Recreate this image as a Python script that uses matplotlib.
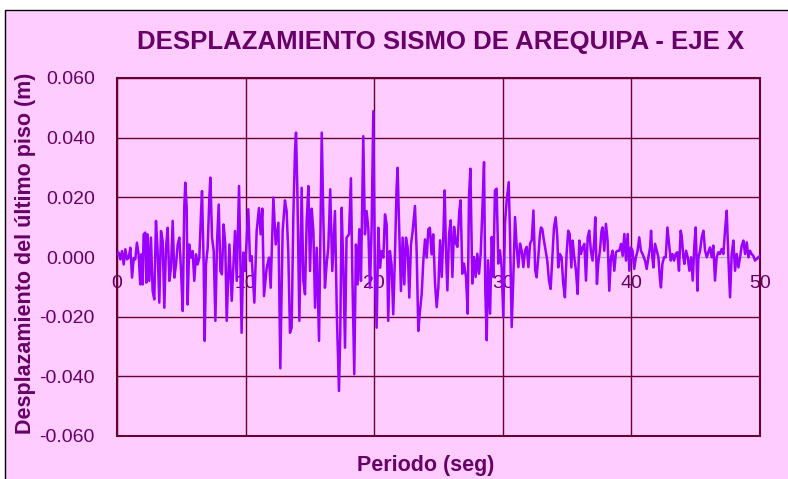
import matplotlib
matplotlib.use("Agg")
import matplotlib.pyplot as plt
from matplotlib.patches import Rectangle

# Tiempo (s) y desplazamiento del ultimo piso (m), tramo por tramo
t_a = [0.00, 0.13, 0.26, 0.39, 0.52, 0.65, 0.78, 0.91, 1.04, 1.17,
       1.30, 1.42, 1.55, 1.68, 1.81, 1.89, 1.99, 2.07, 2.20, 2.28,
       2.38, 2.51, 2.64, 2.77, 2.90, 3.03, 3.16, 3.29, 3.42, 3.55,
       3.68, 3.81, 3.94, 4.07, 4.20, 4.33, 4.46, 4.59, 4.72, 4.85,
       4.98, 5.11, 5.23, 5.31, 5.42, 5.49, 5.62, 5.75, 5.88, 6.01,
       6.14, 6.27, 6.40, 6.53, 6.61, 6.74, 6.82, 6.92, 7.05, 7.18,
       7.26, 7.39, 7.52, 7.65, 7.78, 7.91, 8.04, 8.16, 8.29, 8.42]
d_a = [0.0009, 0.0015, -0.0008, 0.0020, -0.0025, 0.0026, -0.0008, -0.0002, 0.0031, -0.0069,
       -0.0004, -0.0008, 0.0048, 0.0009, -0.0092, 0.0009, -0.0092, 0.0076, 0.0082, -0.0086,
       0.0076, -0.0080, 0.0065, -0.0114, -0.0142, 0.0121, 0.0020, -0.0153, 0.0087, 0.0054,
       -0.0170, 0.0031, 0.0098, -0.0080, -0.0036, 0.0121, -0.0069, -0.0025, 0.0042, 0.0065,
       -0.0047, -0.0181, 0.0165, 0.0249, 0.0165, -0.0159, 0.0042, -0.0002, 0.0020, -0.0080,
       0.0009, -0.0025, -0.0002, 0.0143, 0.0221, -0.0025, -0.0281, -0.0025, 0.0031, 0.0199,
       0.0266, 0.0065, 0.0020, -0.0214, 0.0054, 0.0176, -0.0047, -0.0058, 0.0109, 0.0042]

t_b = [8.53, 8.74, 8.92, 9.18, 9.31, 9.49, 9.69, 9.82, 9.95, 10.21,
       10.34, 10.47, 10.68, 10.86, 11.04, 11.17, 11.30, 11.43, 11.64, 11.82,
       11.95, 12.16, 12.34, 12.55, 12.70, 12.88, 13.06, 13.19, 13.32, 13.45,
       13.58, 13.71, 13.84, 13.92, 14.02, 14.18, 14.36, 14.49, 14.62, 14.75,
       14.88, 15.01, 15.14, 15.27, 15.40, 15.53, 15.71, 15.92, 16.05, 16.17,
       16.30, 16.43]
d_b = [-0.0214, 0.0042, -0.0147, 0.0087, -0.0080, 0.0238, -0.0254, 0.0015, -0.0047, 0.0160,
       -0.0013, 0.0003, -0.0153, 0.0087, 0.0164, 0.0076, 0.0162, -0.0131, -0.0036, -0.0002,
       -0.0103, 0.0199, 0.0042, 0.0115, -0.0373, 0.0087, 0.0190, 0.0154, 0.0015, -0.0254,
       -0.0237, 0.0132, 0.0355, 0.0417, 0.0232, -0.0214, 0.0232, -0.0080, -0.0125, 0.0121,
       0.0238, -0.0047, 0.0162, 0.0087, -0.0170, 0.0031, -0.0281, 0.0417, 0.0121, -0.0103,
       -0.0025, 0.0031]

t_c = [16.58, 16.74, 16.95, 17.10, 17.26, 17.36, 17.47, 17.60, 17.73, 17.85,
       18.04, 18.19, 18.30, 18.45, 18.58, 18.71, 18.84, 18.97, 19.15, 19.28,
       19.41, 19.54, 19.67, 19.80, 19.93, 20.06, 20.19, 20.32, 20.45, 20.58,
       20.71, 20.84, 20.97, 21.09, 21.22, 21.35, 21.48, 21.61, 21.74, 21.82,
       21.92, 22.08, 22.21, 22.34, 22.47, 22.60, 22.73, 22.86, 22.99, 23.17,
       23.30, 23.43, 23.56, 23.69, 23.82, 23.95, 24.08, 24.21, 24.33, 24.46,
       24.59]
d_c = [0.0227, -0.0047, 0.0154, -0.0203, -0.0449, -0.0259, 0.0165, -0.0036, -0.0304, 0.0065,
       0.0076, 0.0264, -0.0058, -0.0393, 0.0042, -0.0092, 0.0093, -0.0080, 0.0405, 0.0076,
       0.0154, 0.0098, -0.0103, 0.0098, 0.0489, -0.0058, -0.0237, 0.0098, -0.0036, 0.0020,
       -0.0002, 0.0143, 0.0109, -0.0214, 0.0020, -0.0025, -0.0192, -0.0002, 0.0232, 0.0299,
       0.0132, -0.0114, 0.0065, -0.0092, 0.0065, 0.0031, -0.0136, 0.0042, 0.0087, 0.0171,
       0.0020, -0.0248, -0.0181, -0.0125, -0.0013, 0.0059, -0.0002, 0.0093, 0.0098, 0.0009,
       0.0076]

t_d = [24.73, 24.86, 24.99, 25.12, 25.25, 25.38, 25.48, 25.58, 25.69, 25.82,
       25.95, 26.08, 26.21, 26.36, 26.47, 26.62, 26.72, 26.85, 26.98, 27.14,
       27.27, 27.37, 27.48, 27.63, 27.76, 27.89, 28.02, 28.15, 28.28, 28.41,
       28.54, 28.64, 28.75, 28.85, 29.01, 29.14, 29.26, 29.39, 29.52, 29.65,
       29.78, 29.91, 30.04, 30.17, 30.30, 30.46, 30.56, 30.69, 30.82, 30.95,
       31.08, 31.21, 31.34, 31.47, 31.60, 31.73, 31.86, 31.99, 32.12, 32.25,
       32.38, 32.52]
d_d = [-0.0089, -0.0168, -0.0101, 0.0056, -0.0067, 0.0078, 0.0223, 0.0022, -0.0112, 0.0078,
       0.0123, -0.0067, 0.0101, 0.0045, 0.0034, 0.0156, 0.0190, -0.0056, -0.0022, -0.0067,
       -0.0190, 0.0201, 0.0296, -0.0089, 0.0000, -0.0067, 0.0011, -0.0056, 0.0011, 0.0156,
       0.0318, -0.0112, -0.0279, -0.0011, -0.0190, 0.0067, -0.0067, 0.0223, 0.0229, -0.0022,
       0.0022, -0.0034, -0.0201, 0.0112, 0.0190, 0.0251, 0.0078, -0.0235, -0.0067, 0.0134,
       0.0034, -0.0034, 0.0045, 0.0020, -0.0034, 0.0022, 0.0034, -0.0034, 0.0045, 0.0056,
       0.0156, -0.0045]

t_e = [32.63, 32.76, 32.89, 32.97, 33.07, 33.20, 33.33, 33.46, 33.59, 33.72,
       33.85, 33.98, 34.11, 34.24, 34.31, 34.44, 34.57, 34.70, 34.83, 34.96,
       35.09, 35.20, 35.33, 35.43, 35.56, 35.69, 35.82, 35.95, 36.08, 36.21,
       36.34, 36.47, 36.60, 36.72, 36.85, 36.98, 37.11, 37.19, 37.32, 37.42,
       37.55, 37.68, 37.76, 37.89, 38.02, 38.15, 38.28, 38.41, 38.54, 38.67,
       38.80, 38.93, 39.06, 39.19, 39.32, 39.45, 39.58, 39.71, 39.84, 39.96,
       40.09, 40.22, 40.35, 40.48, 40.61, 40.74, 40.87]
d_e = [-0.0068, -0.0001, 0.0077, 0.0099, 0.0094, 0.0055, 0.0021, -0.0012, -0.0079, -0.0107,
       -0.0001, 0.0099, 0.0133, 0.0066, -0.0035, 0.0010, -0.0001, -0.0090, -0.0135, 0.0010,
       0.0088, 0.0077, -0.0035, 0.0055, -0.0001, -0.0046, -0.0124, 0.0055, 0.0010, 0.0032,
       0.0044, -0.0079, 0.0066, 0.0088, 0.0021, -0.0012, 0.0055, 0.0133, -0.0090, -0.0023,
       0.0021, 0.0088, 0.0099, 0.0021, 0.0111, 0.0055, -0.0113, -0.0001, 0.0021, -0.0046,
       0.0016, 0.0021, 0.0021, 0.0044, 0.0004, 0.0077, -0.0012, 0.0077, -0.0046, 0.0032,
       0.0021, -0.0040, -0.0001, 0.0021, 0.0066, 0.0021, 0.0010]

t_f = [41.06, 41.19, 41.32, 41.45, 41.53, 41.63, 41.71, 41.84, 41.97, 42.10,
       42.23, 42.30, 42.41, 42.54, 42.67, 42.80, 42.93, 43.06, 43.19, 43.32,
       43.44, 43.57, 43.70, 43.83, 43.91, 44.04, 44.12, 44.25, 44.38, 44.51,
       44.64, 44.77, 44.90, 45.00, 45.13, 45.21, 45.34, 45.47, 45.60, 45.73,
       45.86, 45.98, 46.11, 46.24, 46.37, 46.50, 46.63, 46.76, 46.89, 47.02,
       47.15, 47.28, 47.41, 47.54, 47.67, 47.80, 47.93, 48.06, 48.19, 48.32,
       48.45, 48.58, 48.71, 48.84, 48.97, 49.10, 49.22, 49.35, 49.48, 49.61,
       49.74, 49.87, 50.00]
d_f = [-0.0012, -0.0040, -0.0001, 0.0032, 0.0088, -0.0001, -0.0035, 0.0044, 0.0021, -0.0001,
       -0.0079, -0.0102, -0.0023, -0.0001, -0.0001, 0.0099, 0.0044, -0.0012, 0.0010, -0.0012,
       0.0010, 0.0016, -0.0046, 0.0088, 0.0071, -0.0001, -0.0023, 0.0021, -0.0001, -0.0046,
       -0.0001, -0.0079, 0.0044, 0.0099, -0.0113, -0.0001, 0.0021, 0.0066, 0.0088, 0.0021,
       -0.0001, 0.0016, 0.0032, -0.0001, 0.0038, -0.0079, -0.0001, 0.0016, 0.0010, 0.0027,
       0.0010, 0.0088, 0.0155, -0.0001, -0.0135, 0.0010, 0.0055, -0.0046, 0.0010, -0.0035,
       -0.0001, 0.0038, 0.0055, 0.0010, 0.0049, -0.0001, 0.0021, 0.0010, 0.0004, -0.0012,
       -0.0007, -0.0001, 0.0004]

tiempo = t_a + t_b + t_c + t_d + t_e + t_f
desplazamiento = d_a + d_b + d_c + d_d + d_e + d_f

x_ticks = [0, 10, 20, 30, 40, 50]
y_ticks = [-0.06, -0.04, -0.02, 0.0, 0.02, 0.04, 0.06]

ROSA = "#FFCCFF"
GRANATE = "#660033"
TEXTO = "#660066"
LINEA = "#9900FF"

plt.rcParams["font.family"] = ["Liberation Sans", "DejaVu Sans"]
plt.rcParams["axes.unicode_minus"] = False

fig = plt.figure(figsize=(7.88, 4.79), dpi=100, facecolor="white")

# fondo del area del grafico con borde negro (detras de los ejes)
fig.patches.append(Rectangle((5 / 788, -0.05), 1.1, 1 - 10 / 479 + 0.05,
                             transform=fig.transFigure, facecolor=ROSA,
                             edgecolor="black", linewidth=1, zorder=-10))

ax = fig.add_axes([117 / 788, 43 / 479, 643 / 788, 358 / 479])
ax.set_facecolor(ROSA)

ax.plot(tiempo, desplazamiento, color=LINEA, linewidth=1.8, zorder=3)

ax.set_xlim(0, 50)
ax.set_ylim(-0.06, 0.06)
ax.set_xticks(x_ticks)
ax.set_yticks(y_ticks)
ax.set_xticklabels([str(v) for v in x_ticks])
ax.set_yticklabels([f"{v:.3f}" for v in y_ticks])

ax.grid(True, color=GRANATE, linewidth=1)
ax.yaxis.get_gridlines()[y_ticks.index(0.0)].set_visible(False)

# eje x cruzando en cero, en gris
for s in ["left", "right", "top"]:
    ax.spines[s].set_visible(False)
ax.spines["bottom"].set_position(("data", 0))
ax.spines["bottom"].set_color("#B0B0B0")
ax.spines["bottom"].set_linewidth(1)
ax.spines["bottom"].set_zorder(2.5)
ax.add_patch(Rectangle((0, 0), 1, 1, transform=ax.transAxes, fill=False,
                       edgecolor=GRANATE, linewidth=1.5, zorder=2.6, clip_on=False))

ax.tick_params(axis="both", length=0, labelsize=14, labelcolor=TEXTO)
ax.tick_params(axis="y", pad=16)
ax.tick_params(axis="x", pad=13)

fig.text(441 / 788, 1 - 42 / 479, "DESPLAZAMIENTO SISMO DE AREQUIPA - EJE X",
         ha="center", va="center", fontsize=18.5, fontweight="bold", color=TEXTO)
fig.text(26 / 788, 1 - 253 / 479, "Desplazamiento del último piso (m)",
         ha="center", va="center", rotation=90, fontsize=15.5,
         fontweight="bold", color=TEXTO)
fig.text(426 / 788, 1 - 466 / 479, "Periodo (seg)",
         ha="center", va="center", fontsize=15.5, fontweight="bold", color=TEXTO)

fig.savefig("out.png", dpi=100, facecolor=fig.get_facecolor())
